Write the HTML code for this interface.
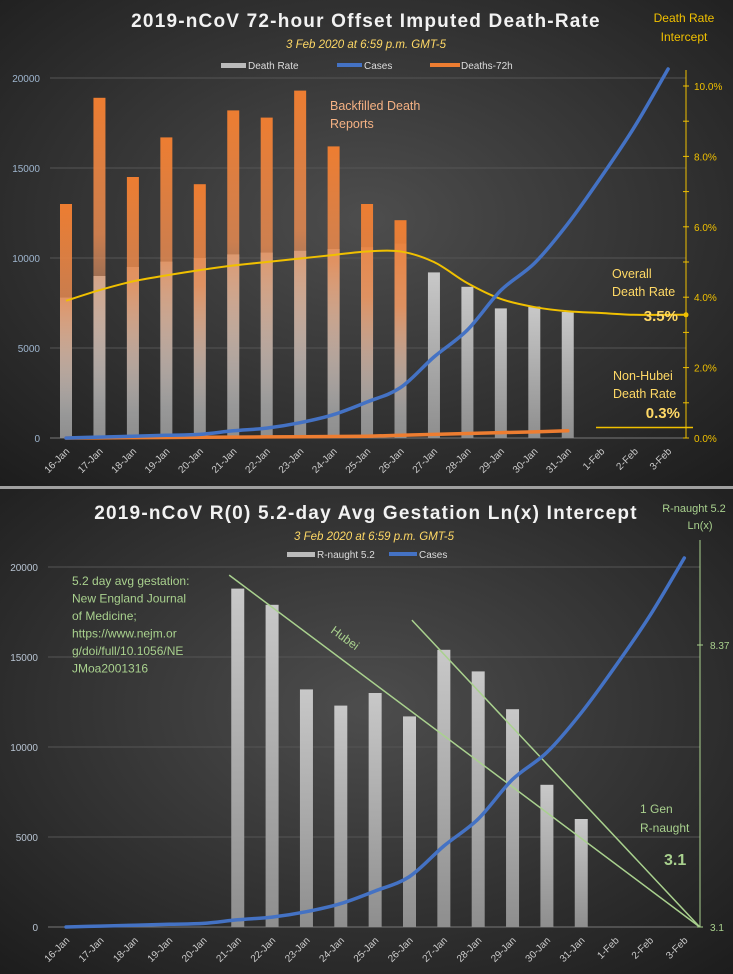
<!DOCTYPE html>
<html><head><meta charset="utf-8"><style>
html,body{margin:0;padding:0;background:#2a2a2a;}
svg{display:block;font-family:"Liberation Sans",sans-serif;}
</style></head><body>
<svg id="svg" width="733" height="974" viewBox="0 0 733 974">
<defs>
<radialGradient id="bg" cx="0.5" cy="0.45" r="0.75">
<stop offset="0" stop-color="#4d4d4d"/><stop offset="1" stop-color="#1c1c1c"/></radialGradient>
<linearGradient id="orangeG" x1="0" y1="0" x2="0" y2="1">
<stop offset="0" stop-color="#ed7d31"/><stop offset="0.4" stop-color="#e58a52" stop-opacity="0.85"/><stop offset="0.9" stop-color="#c8a898" stop-opacity="0"/></linearGradient>
<linearGradient id="greyG" x1="0" y1="0" x2="0" y2="1">
<stop offset="0" stop-color="#c8c8c8"/><stop offset="1" stop-color="#8e8e8e"/></linearGradient>
</defs>
<rect x="0" y="0" width="733" height="487" fill="url(#bg)"/>
<rect x="0" y="489" width="733" height="485" fill="url(#bg)"/>
<rect x="0" y="486" width="733" height="3" fill="#a0a0a0"/>
<g id="top"></g>
<g id="bot"></g>
</svg>
<script>
const cats=["16-Jan","17-Jan","18-Jan","19-Jan","20-Jan","21-Jan","22-Jan","23-Jan","24-Jan","25-Jan","26-Jan","27-Jan","28-Jan","29-Jan","30-Jan","31-Jan","1-Feb","2-Feb","3-Feb"];
const cases=[0,50,100,150,200,400,550,850,1300,2000,2800,4500,6000,8200,9700,11900,14500,17300,20500];
const deathRateBars=[7800,9000,9500,9800,10000,10200,10300,10400,10500,10600,10800,9200,8400,7200,7300,7000,null,null,null];
const deaths72=[13000,18900,14500,16700,14100,18200,17800,19300,16200,13000,12100,null,null,null,null,null,null,null,null];
const deaths72Line=[0,10,20,30,40,50,60,70,80,100,150,200,250,300,340,400,null,null,null];
const deathRatePct=[3.9,4.2,4.45,4.62,4.77,4.9,5.0,5.1,5.2,5.3,5.3,5.0,4.4,3.95,3.72,3.6,3.55,3.5,3.5];
const leftTicks=[0,5000,10000,15000,20000];
const pctTicks=[0,2,4,6,8,10];
const rnaught=[null,null,null,null,null,18800,17900,13200,12300,13000,11700,15400,14200,12100,7900,6000,null,null,null];
const hubeiLine=[[4.75,19550],[18.45,0]];
const secondLine=[[10.07,17050],[18.45,0]];
const rTicks=[3.1,8.37];

const NS="http://www.w3.org/2000/svg";
function mk(parent,tag,attrs,text){const e=document.createElementNS(NS,tag);for(const k in attrs)e.setAttribute(k,attrs[k]);if(text!==undefined)e.textContent=text;parent.appendChild(e);return e;}
function smooth(pts){let d="M"+pts[0][0]+","+pts[0][1];for(let i=0;i<pts.length-1;i++){const p0=pts[i-1]||pts[i],p1=pts[i],p2=pts[i+1],p3=pts[i+2]||p2;const c1=[p1[0]+(p2[0]-p0[0])/6,p1[1]+(p2[1]-p0[1])/6],c2=[p2[0]-(p3[0]-p1[0])/6,p2[1]-(p3[1]-p1[1])/6];d+=` C${c1[0]},${c1[1]} ${c2[0]},${c2[1]} ${p2[0]},${p2[1]}`;}return d;}

// ---------- TOP ----------
(function(){
const g=document.getElementById('top');
const x=i=>66+i*33.45, y=v=>438-v*0.018, yp=p=>438-p*35.2;
let t;
t=mk(g,'text',{x:366,y:27,'text-anchor':'middle',fill:'#f2f2f2','font-size':19,'font-weight':'bold','letter-spacing':'1.2'},'2019-nCoV  72-hour  Offset  Imputed  Death-Rate');

t=mk(g,'text',{x:366,y:48,'text-anchor':'middle',fill:'#ffd966','font-size':11.5,'font-style':'italic'},'3 Feb 2020 at 6:59 p.m. GMT-5');

t=mk(g,'text',{x:684,y:22,'text-anchor':'middle',fill:'#f0c000','font-size':12},'Death Rate');

mk(g,'text',{x:684,y:41,'text-anchor':'middle',fill:'#f0c000','font-size':12},'Intercept');
const lg=mk(g,'g',{});
mk(lg,'rect',{x:221,y:63,width:25,height:5,fill:'#bbb'});mk(lg,'text',{x:248,y:69,fill:'#ddd','font-size':10},'Death Rate');
mk(lg,'rect',{x:337,y:63,width:25,height:4,fill:'#4472c4'});mk(lg,'text',{x:364,y:69,fill:'#ddd','font-size':10},'Cases');
mk(lg,'rect',{x:430,y:63,width:30,height:4,fill:'#ed7d31'});mk(lg,'text',{x:461,y:69,fill:'#ddd','font-size':10},'Deaths-72h');
leftTicks.forEach(v=>{const l=mk(g,'line',{x1:50,x2:686,y1:y(v),y2:y(v),stroke:v?'#555':'#777','stroke-width':1});
const tt=mk(g,'text',{x:40,y:y(v)+4,'text-anchor':'end',fill:'#9fb6cf','font-size':10},String(v));});
const ra=mk(g,'line',{x1:686,x2:686,y1:70,y2:438,stroke:'#f0c000','stroke-width':1});
for(let p=0;p<=10.5;p+=1){mk(g,'line',{x1:683,x2:689,y1:yp(p),y2:yp(p),stroke:'#f0c000'});}
pctTicks.forEach(p=>{const tt=mk(g,'text',{x:694,y:yp(p)+4,fill:'#f0c000','font-size':10},p.toFixed(1)+'%');});
cats.forEach((c,i)=>{
 if(deathRateBars[i]!=null){const b=mk(g,'rect',{x:x(i)-6,y:y(deathRateBars[i]),width:12,height:438-y(deathRateBars[i]),fill:'url(#greyG)'});}
 if(deaths72[i]!=null){const b=mk(g,'rect',{x:x(i)-6,y:y(deaths72[i]),width:12,height:438-y(deaths72[i]),fill:'url(#orangeG)'});}
 const tt=mk(g,'text',{transform:`translate(${x(i)+4},${452}) rotate(-45)`,'text-anchor':'end',fill:'#ccc','font-size':10},c);
});
const dp=deathRatePct.map((p,i)=>[x(i),yp(p)]);dp.push([686,yp(3.5)]);
const dl=mk(g,'path',{d:smooth(dp),fill:'none',stroke:'#f0c000','stroke-width':2});
mk(g,'circle',{cx:686,cy:yp(3.5),r:2.5,fill:'#f0c000'});
const ol=mk(g,'polyline',{points:deaths72Line.map((v,i)=>v==null?'':x(i)+','+y(v)).join(' ').trim(),fill:'none',stroke:'#ed7d31','stroke-width':3.5,'stroke-linecap':'round'});
const cl=mk(g,'path',{d:smooth(cases.map((v,i)=>[x(i),y(v)])),fill:'none',stroke:'#4472c4','stroke-width':3.5,'stroke-linecap':'round'});
t=mk(g,'text',{x:330,y:110,fill:'#f4b183','font-size':12.5},'Backfilled Death');
mk(g,'text',{x:330,y:128,fill:'#f4b183','font-size':12.5},'Reports');
t=mk(g,'text',{x:612,y:278,fill:'#ffd966','font-size':12.5},'Overall');
mk(g,'text',{x:612,y:296,fill:'#ffd966','font-size':12.5},'Death Rate');
t=mk(g,'text',{x:678,y:321,'text-anchor':'end',fill:'#ffd966','font-size':15,'font-weight':'bold'},'3.5%');
t=mk(g,'text',{x:613,y:380,fill:'#ffd966','font-size':12.5},'Non-Hubei');
mk(g,'text',{x:613,y:398,fill:'#ffd966','font-size':12.5},'Death Rate');
t=mk(g,'text',{x:680,y:418,'text-anchor':'end',fill:'#ffd966','font-size':15,'font-weight':'bold'},'0.3%');
mk(g,'line',{x1:596,x2:693,y1:yp(0.3),y2:yp(0.3),stroke:'#f0c000','stroke-width':1.5});
})();

// ---------- BOTTOM ----------
(function(){
const g=document.getElementById('bot');
const x=i=>66+i*34.35, y=v=>927-v*0.018, yr=r=>927-(r-3.1)*(282/5.27);
let t;
t=mk(g,'text',{x:366,y:519,'text-anchor':'middle',fill:'#f2f2f2','font-size':19,'font-weight':'bold','letter-spacing':'1.2'},'2019-nCoV  R(0) 5.2-day  Avg  Gestation  Ln(x)  Intercept');

t=mk(g,'text',{x:374,y:540,'text-anchor':'middle',fill:'#ffd966','font-size':11.5,'font-style':'italic'},'3 Feb 2020 at 6:59 p.m. GMT-5');

t=mk(g,'text',{x:694,y:512,'text-anchor':'middle',fill:'#a9d18e','font-size':11},'R-naught 5.2');
mk(g,'text',{x:700,y:529,'text-anchor':'middle',fill:'#a9d18e','font-size':11},'Ln(x)');
const lg=mk(g,'g',{});
mk(lg,'rect',{x:287,y:552,width:28,height:5,fill:'#bbb'});mk(lg,'text',{x:317,y:558,fill:'#ddd','font-size':10},'R-naught 5.2');
mk(lg,'rect',{x:389,y:552,width:28,height:4,fill:'#4472c4'});mk(lg,'text',{x:419,y:558,fill:'#ddd','font-size':10},'Cases');
leftTicks.forEach(v=>{const l=mk(g,'line',{x1:48,x2:700,y1:y(v),y2:y(v),stroke:v?'#555':'#777'});
const tt=mk(g,'text',{x:38,y:y(v)+4,'text-anchor':'end',fill:'#b8c4d2','font-size':10},String(v));});
const ra=mk(g,'line',{x1:700,x2:700,y1:540,y2:927,stroke:'#a9d18e'});
rTicks.forEach(r=>{mk(g,'line',{x1:697,x2:703,y1:yr(r),y2:yr(r),stroke:'#a9d18e'});const tt=mk(g,'text',{x:710,y:yr(r)+4,fill:'#a9d18e','font-size':10},String(r));});
cats.forEach((c,i)=>{
 if(rnaught[i]!=null){const b=mk(g,'rect',{x:x(i)-6.5,y:y(rnaught[i]),width:13,height:927-y(rnaught[i]),fill:'url(#greyG)'});}
 const tt=mk(g,'text',{transform:`translate(${x(i)+4},${941}) rotate(-45)`,'text-anchor':'end',fill:'#ccc','font-size':10},c);
});
const h=mk(g,'line',{x1:x(hubeiLine[0][0]),y1:y(hubeiLine[0][1]),x2:x(hubeiLine[1][0]),y2:y(hubeiLine[1][1]),stroke:'#a9d18e','stroke-width':1.5});
const s=mk(g,'line',{x1:x(secondLine[0][0]),y1:y(secondLine[0][1]),x2:x(secondLine[1][0]),y2:y(secondLine[1][1]),stroke:'#a9d18e','stroke-width':1.5});
const cl=mk(g,'path',{d:smooth(cases.map((v,i)=>[x(i),y(v)])),fill:'none',stroke:'#4472c4','stroke-width':3.5,'stroke-linecap':'round'});
t=mk(g,'text',{transform:'translate(330,632) rotate(36)',fill:'#a9d18e','font-size':12},'Hubei');
const note=["5.2  day avg gestation:","New England Journal","of Medicine;","https://www.nejm.or","g/doi/full/10.1056/NE","JMoa2001316"];
note.forEach((l,k)=>{const tt=mk(g,'text',{x:72,y:585+k*17.5,fill:'#a9d18e','font-size':12},l);});
t=mk(g,'text',{x:640,y:813,fill:'#a9d18e','font-size':12},'1 Gen');
mk(g,'text',{x:640,y:832,fill:'#a9d18e','font-size':12},'R-naught');
t=mk(g,'text',{x:664,y:865,fill:'#a9d18e','font-size':16,'font-weight':'bold'},'3.1');
})();
</script>
</body></html>
